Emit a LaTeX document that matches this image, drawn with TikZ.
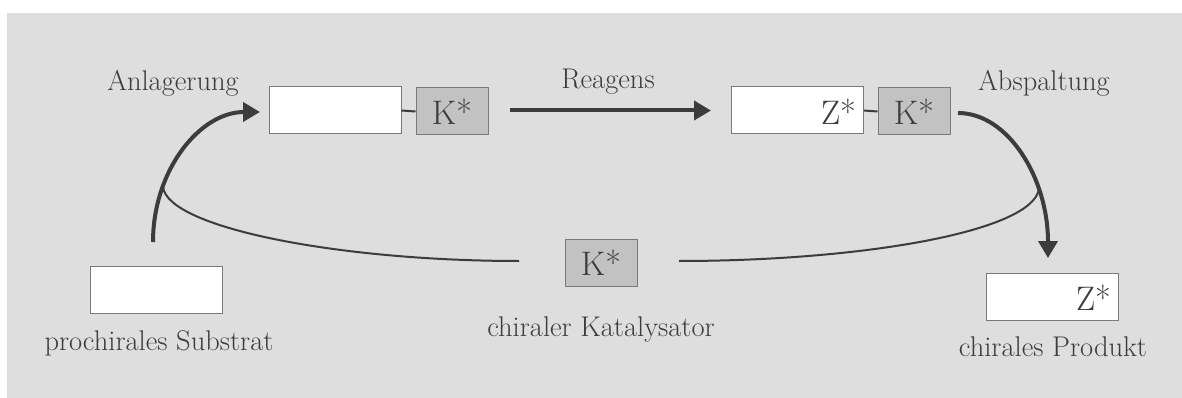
\documentclass[tikz,border=0pt]{standalone}
\usetikzlibrary{arrows.meta}
\definecolor{bg}{HTML}{DEDEDE}
\definecolor{ink}{HTML}{3C3C3C}
\definecolor{boxline}{HTML}{7A7A7A}
\definecolor{cat}{HTML}{C2C2C2}
\tikzset{
  lbl/.style={text=ink, font=\fontsize{28.5}{32}\selectfont, inner sep=0pt},
  wbox/.style={draw=boxline, line width=1pt, fill=white, minimum width=132pt, minimum height=47pt, inner sep=0pt},
  gbox/.style={draw=boxline, line width=1pt, fill=cat, minimum width=72pt, minimum height=47pt, inner sep=0pt,
               text=ink, font=\fontsize{34}{38}\selectfont},
  sym/.style={text=ink, font=\fontsize{34}{38}\selectfont, inner sep=0pt, anchor=east},
  arr/.style={draw=ink, line width=4pt, -{Triangle[length=17pt, width=19pt]}},
  link/.style={draw=ink, line width=2pt},
  cyc/.style={draw=ink, line width=2pt},
}
\begin{document}
\begin{tikzpicture}[x=1pt, y=-1pt]
\useasboundingbox (0,0) rectangle (1182,398);
\fill[bg] (7,13) rectangle (1182,398);

% boxes of the cycle
\node[wbox] (sub) at (156.5,289.5) {};
\node[wbox] (adA) at (335,110.5) {};
\node[gbox] (kA) at (452,111.5) {K*};
\node[wbox] (adB) at (797.5,110.5) {};
\node[sym] (zB) at (856,112) {Z*};
\node[gbox] (kB) at (914,111.5) {K*};
\node[gbox] (kM) at (601,263) {K*};
\node[wbox] (prod) at (1052.5,296.5) {};
\node[sym] (zP) at (1111,298) {Z*};

% bonds between product part and catalyst
\draw[link] (adA.east) -- (kA.west);
\draw[link] (adB.east) -- (kB.west);

% labels
\node[lbl] (tAn) at (173,83) {Anlagerung};
\node[lbl] (tRe) at (608,82) {Reagens};
\node[lbl] (tAb) at (1044,83) {Abspaltung};
\node[lbl] (tSu) at (159,343) {prochirales Substrat};
\node[lbl] (tKa) at (601,330) {chiraler Katalysator};
\node[lbl] (tPr) at (1053,347) {chirales Produkt};

% anchor points of the curved arrows
\coordinate (a0) at (153,242);
\coordinate (a1) at (260,112);
\coordinate (b0) at (958,113);
\coordinate (b1) at (1048,258);
\coordinate (cL) at (163,187);
\coordinate (cR) at (1039,189);
\coordinate (mL) at (519,261);
\coordinate (mR) at (679,261);
\coordinate (r0) at (510,110.5);
\coordinate (r1) at (711,110.5);

% catalyst return path
\draw[cyc] (cL) .. controls (168,228) and (340,261) .. (mL);
\draw[cyc] (mR) .. controls (860,261) and (1032,232) .. (cR);

% reaction arrows
\draw[arr] (a0) .. controls (153,170) and (200,112) .. (a1);
\draw[arr] (r0) -- (r1);
\draw[arr] (b0) .. controls (1008,113) and (1048,178) .. (b1);
\end{tikzpicture}
\end{document}
